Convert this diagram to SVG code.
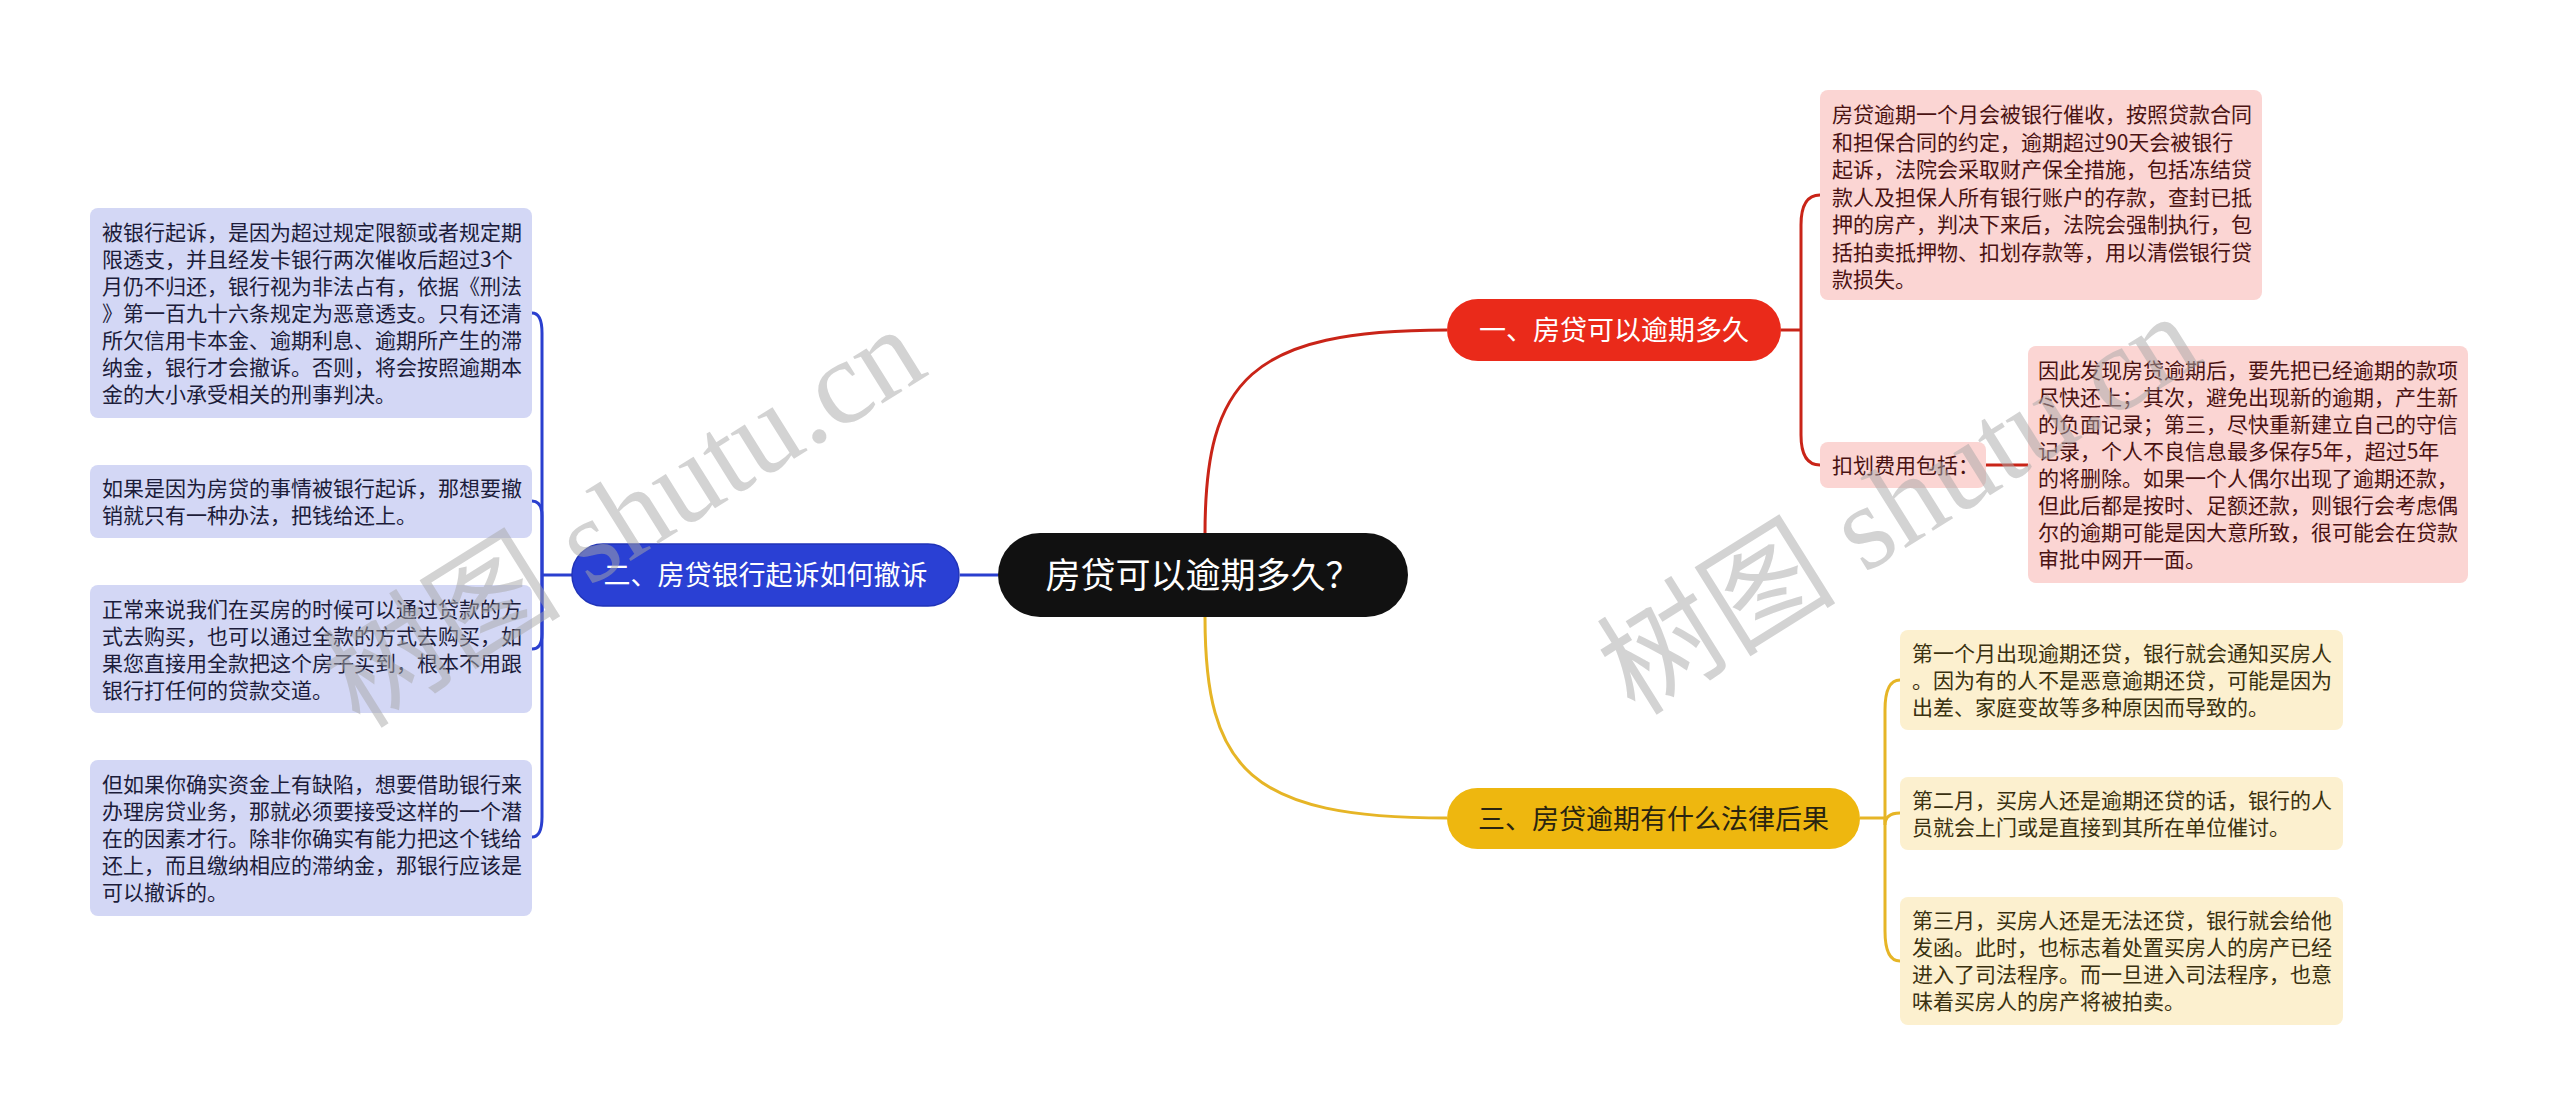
<svg xmlns="http://www.w3.org/2000/svg" width="2560" height="1116" viewBox="0 0 2560 1116">
<style>
text{font-family:"Noto Sans CJK SC","Noto Sans",sans-serif}
.t{font-size:21px}
.lb{fill:#d3d7f5}
.lt{fill:#1c1c3a}
.pb{fill:#fbd5d3}
.pt{fill:#4a1212}
.yb{fill:#fcf0cf}
.yt{fill:#3a3110}
.cb{fill:none;stroke:#2a3fcf;stroke-width:3}
.cr{fill:none;stroke:#c92418;stroke-width:3}
.cy{fill:none;stroke:#e6b526;stroke-width:3}
.wm{font-family:"Liberation Serif","Noto Sans CJK SC",serif;font-size:120px;fill:#a8a8a8;opacity:0.5}
</style>
<rect width="2560" height="1116" fill="#ffffff"/>
<g id="connectors">
<path class="cb" d="M572 575 H542"/>
<path class="cb" d="M998 575 H960"/>
<path class="cb" d="M542 575 V333 Q542 313 532 313"/>
<path class="cb" d="M542 575 V516 Q542 501 532 501"/>
<path class="cb" d="M542 575 V634 Q542 649 532 649"/>
<path class="cb" d="M542 575 V817 Q542 837 532 837"/>
<path class="cr" d="M1205 534 C1205 380 1250 330 1447 330"/>
<path class="cy" d="M1205 617 C1205 770 1250 818 1447 818"/>
<path class="cr" d="M1781 330 H1801"/>
<path class="cr" d="M1801 330 V225 Q1801 195 1820 195"/>
<path class="cr" d="M1801 330 V435 Q1801 465 1820 465"/>
<path class="cr" d="M1986 465 H2028"/>
<path class="cy" d="M1860 818 H1885"/>
<path class="cy" d="M1885 818 V710 Q1885 680 1900 680"/>
<path class="cy" d="M1885 818 V825 Q1885 813 1900 813"/>
<path class="cy" d="M1885 818 V931 Q1885 961 1900 961"/>
</g>
<g id="root">
<rect x="998" y="533" width="410" height="84" rx="42" fill="#111111"/>
<text x="1203" y="588" font-size="35" fill="#ffffff" text-anchor="middle">房贷可以逾期多久？</text>
</g>
<g id="n2">
<rect x="572" y="544" width="387" height="62" rx="31" fill="#2a40d4" stroke="#2033b8" stroke-width="1.5"/>
<text x="765.5" y="585" font-size="27" fill="#ffffff" text-anchor="middle">二、房贷银行起诉如何撤诉</text>
</g>
<g id="n1">
<rect x="1447" y="299" width="334" height="62" rx="31" fill="#ea2a1a"/>
<text x="1614" y="340" font-size="27" fill="#ffffff" text-anchor="middle">一、房贷可以逾期多久</text>
</g>
<g id="n3">
<rect x="1447" y="788" width="413" height="61" rx="30.5" fill="#eeb70f"/>
<text x="1653.5" y="828.5" font-size="27" fill="#2a2410" text-anchor="middle">三、房贷逾期有什么法律后果</text>
</g>
<g id="l1">
<rect class="lb" x="90" y="208" width="442" height="210" rx="8"/>
<text class="t lt" x="102" y="240"><tspan x="102">被银行起诉，是因为超过规定限额或者规定期</tspan><tspan x="102" dy="27">限透支，并且经发卡银行两次催收后超过3个</tspan><tspan x="102" dy="27">月仍不归还，银行视为非法占有，依据《刑法</tspan><tspan x="102" dy="27">》第一百九十六条规定为恶意透支。只有还清</tspan><tspan x="102" dy="27">所欠信用卡本金、逾期利息、逾期所产生的滞</tspan><tspan x="102" dy="27">纳金，银行才会撤诉。否则，将会按照逾期本</tspan><tspan x="102" dy="27">金的大小承受相关的刑事判决。</tspan></text>
</g>
<g id="l2">
<rect class="lb" x="90" y="465" width="442" height="73" rx="8"/>
<text class="t lt" x="102" y="496"><tspan x="102">如果是因为房贷的事情被银行起诉，那想要撤</tspan><tspan x="102" dy="27">销就只有一种办法，把钱给还上。</tspan></text>
</g>
<g id="l3">
<rect class="lb" x="90" y="585" width="442" height="128" rx="8"/>
<text class="t lt" x="102" y="617"><tspan x="102">正常来说我们在买房的时候可以通过贷款的方</tspan><tspan x="102" dy="27">式去购买，也可以通过全款的方式去购买，如</tspan><tspan x="102" dy="27">果您直接用全款把这个房子买到，根本不用跟</tspan><tspan x="102" dy="27">银行打任何的贷款交道。</tspan></text>
</g>
<g id="l4">
<rect class="lb" x="90" y="760" width="442" height="156" rx="8"/>
<text class="t lt" x="102" y="792"><tspan x="102">但如果你确实资金上有缺陷，想要借助银行来</tspan><tspan x="102" dy="27">办理房贷业务，那就必须要接受这样的一个潜</tspan><tspan x="102" dy="27">在的因素才行。除非你确实有能力把这个钱给</tspan><tspan x="102" dy="27">还上，而且缴纳相应的滞纳金，那银行应该是</tspan><tspan x="102" dy="27">可以撤诉的。</tspan></text>
</g>
<g id="r1">
<rect class="pb" x="1820" y="90" width="442" height="210" rx="8"/>
<text class="t pt" x="1832" y="122"><tspan x="1832">房贷逾期一个月会被银行催收，按照贷款合同</tspan><tspan x="1832" dy="27.5">和担保合同的约定，逾期超过90天会被银行</tspan><tspan x="1832" dy="27.5">起诉，法院会采取财产保全措施，包括冻结贷</tspan><tspan x="1832" dy="27.5">款人及担保人所有银行账户的存款，查封已抵</tspan><tspan x="1832" dy="27.5">押的房产，判决下来后，法院会强制执行，包</tspan><tspan x="1832" dy="27.5">括拍卖抵押物、扣划存款等，用以清偿银行贷</tspan><tspan x="1832" dy="27.5">款损失。</tspan></text>
</g>
<g id="r2">
<rect class="pb" x="1820" y="442" width="166" height="46" rx="8"/>
<text class="t pt" x="1832" y="473">扣划费用包括：</text>
</g>
<g id="r3">
<rect class="pb" x="2028" y="346" width="440" height="237" rx="8"/>
<text class="t pt" x="2038" y="378"><tspan x="2038">因此发现房贷逾期后，要先把已经逾期的款项</tspan><tspan x="2038" dy="27">尽快还上；其次，避免出现新的逾期，产生新</tspan><tspan x="2038" dy="27">的负面记录；第三，尽快重新建立自己的守信</tspan><tspan x="2038" dy="27">记录，个人不良信息最多保存5年，超过5年</tspan><tspan x="2038" dy="27">的将删除。如果一个人偶尔出现了逾期还款，</tspan><tspan x="2038" dy="27">但此后都是按时、足额还款，则银行会考虑偶</tspan><tspan x="2038" dy="27">尔的逾期可能是因大意所致，很可能会在贷款</tspan><tspan x="2038" dy="27">审批中网开一面。</tspan></text>
</g>
<g id="y1">
<rect class="yb" x="1900" y="630" width="443" height="100" rx="8"/>
<text class="t yt" x="1912" y="661"><tspan x="1912">第一个月出现逾期还贷，银行就会通知买房人</tspan><tspan x="1912" dy="27">。因为有的人不是恶意逾期还贷，可能是因为</tspan><tspan x="1912" dy="27">出差、家庭变故等多种原因而导致的。</tspan></text>
</g>
<g id="y2">
<rect class="yb" x="1900" y="777" width="443" height="73" rx="8"/>
<text class="t yt" x="1912" y="808"><tspan x="1912">第二月，买房人还是逾期还贷的话，银行的人</tspan><tspan x="1912" dy="27">员就会上门或是直接到其所在单位催讨。</tspan></text>
</g>
<g id="y3">
<rect class="yb" x="1900" y="897" width="443" height="128" rx="8"/>
<text class="t yt" x="1912" y="928"><tspan x="1912">第三月，买房人还是无法还贷，银行就会给他</tspan><tspan x="1912" dy="27">发函。此时，也标志着处置买房人的房产已经</tspan><tspan x="1912" dy="27">进入了司法程序。而一旦进入司法程序，也意</tspan><tspan x="1912" dy="27">味着买房人的房产将被拍卖。</tspan></text>
</g>
<g id="watermarks">
<text class="wm" x="360" y="730" transform="rotate(-32 360 730)">树图 shutu.cn</text>
<text class="wm" x="1635" y="717" transform="rotate(-32 1635 717)">树图 shutu.cn</text>
</g>
</svg>
